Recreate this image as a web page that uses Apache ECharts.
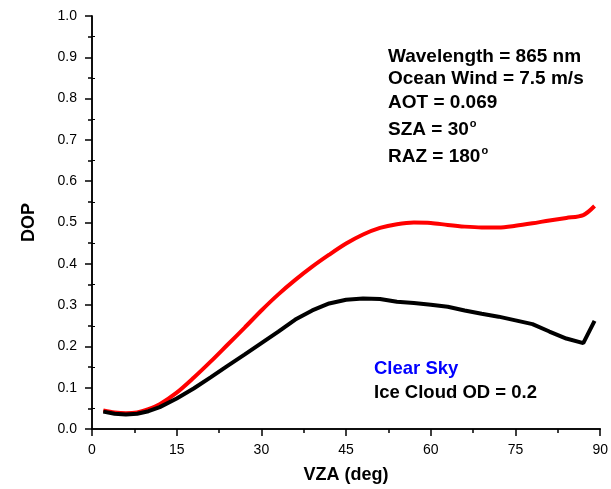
<!DOCTYPE html>
<html>
<head>
<meta charset="utf-8">
<script src="https://cdn.jsdelivr.net/npm/echarts@6/dist/echarts.min.js"></script>
<style>
  html, body { margin: 0; padding: 0; background: #fff; }
  #chart { width: 611px; height: 489px; }
</style>
</head>
<body>
<div id="chart"></div>
<script>
// VZA sample angles (deg)
const vza = [2, 4, 6, 8, 10, 12, 15, 18, 21, 24, 27, 30, 33, 36, 39, 42, 45, 48, 51, 54, 57, 60, 63, 66, 69, 72, 75, 78, 81, 84, 87, 89]
// clear sky DOP
const clearSky = [0.045, 0.040, 0.038, 0.040, 0.048, 0.060, 0.088, 0.124, 0.163, 0.204, 0.245, 0.287, 0.326, 0.361, 0.393, 0.422, 0.449, 0.471, 0.487, 0.496, 0.500, 0.499, 0.494, 0.490, 0.488, 0.488, 0.492, 0.498, 0.505, 0.511, 0.518, 0.540]
// ice cloud OD = 0.2 DOP
const iceCloud = [0.042, 0.037, 0.035, 0.037, 0.043, 0.053, 0.074, 0.098, 0.125, 0.153, 0.180, 0.208, 0.236, 0.265, 0.287, 0.304, 0.313, 0.316, 0.315, 0.308, 0.305, 0.301, 0.296, 0.287, 0.279, 0.272, 0.263, 0.254, 0.236, 0.219, 0.208, 0.262]

const infoLines = ['Wavelength = 865 nm', 'Ocean Wind = 7.5 m/s', 'AOT = 0.069']

const font = 'Arial, "Liberation Sans", sans-serif'

const chart = echarts.init(document.getElementById('chart'))

const pairs = (ys) => vza.map((x, i) => [x, ys[i]])

const bold = { fontFamily: font, fontSize: 19, fontWeight: 'bold', fill: '#000' }
const degRich = {
  a: { fontFamily: font, fontSize: 19, fontWeight: 'bold' },
  s: { fontFamily: font, fontSize: 11, fontWeight: 'bold', verticalAlign: 'top', padding: [0, 0, 12, 1] }
}

const option = {
  animation: false,
  grid: { left: 92, right: 10, top: 16, bottom: 60 },
  xAxis: [{
    type: 'value',
    min: 0, max: 90, interval: 15,
    name: 'VZA (deg)',
    nameLocation: 'middle',
    nameGap: 37,
    nameTextStyle: { fontFamily: font, fontSize: 18, fontWeight: 'bold', color: '#000' },
    axisLine: { lineStyle: { color: '#000', width: 1.5 } },
    axisTick: { inside: false, length: 7, lineStyle: { color: '#000', width: 1.5 } },
    minorTick: { show: true, splitNumber: 2, length: 4, lineStyle: { color: '#000', width: 1.5 } },
    axisLabel: { fontFamily: font, fontSize: 14, color: '#000', margin: 14 },
    splitLine: { show: false }
  }, {
    type: 'value', position: 'top',
    min: 0, max: 90, interval: 15,
    axisLine: { show: true, lineStyle: { color: '#000', width: 1.5 } },
    axisTick: { show: false }, axisLabel: { show: false }, splitLine: { show: false }
  }],
  yAxis: [{
    type: 'value',
    min: 0, max: 1, interval: 0.1,
    name: 'DOP',
    nameLocation: 'middle',
    nameGap: 54,
    nameTextStyle: { fontFamily: font, fontSize: 18, fontWeight: 'bold', color: '#000' },
    axisLine: { show: true, lineStyle: { color: '#000', width: 1.5 } },
    axisTick: { inside: false, length: 7, lineStyle: { color: '#000', width: 1.5 } },
    minorTick: { show: true, splitNumber: 2, length: 4, lineStyle: { color: '#000', width: 1.5 } },
    axisLabel: { fontFamily: font, fontSize: 14, color: '#000', margin: 15, formatter: (v) => v.toFixed(1) },
    splitLine: { show: false }
  }, {
    type: 'value', position: 'right',
    min: 0, max: 1, interval: 0.1,
    axisLine: { show: true, lineStyle: { color: '#000', width: 1.5 } },
    axisTick: { show: false },
    minorTick: { show: true, splitNumber: 2, length: 3, lineStyle: { color: '#000', width: 1 } },
    axisLabel: { show: false }, splitLine: { show: false }
  }],
  series: [{
    name: 'Clear Sky',
    type: 'line',
    data: pairs(clearSky),
    smooth: 0.3,
    showSymbol: false,
    lineStyle: { color: '#ff0000', width: 4 }
  }, {
    name: 'Ice Cloud OD = 0.2',
    type: 'line',
    data: pairs(iceCloud),
    smooth: false,
    showSymbol: false,
    lineStyle: { color: '#000', width: 4 }
  }],
  graphic: [
    ...infoLines.map((t, i) => ({
      type: 'text', left: 388, top: [47, 69, 93][i],
      style: Object.assign({ text: t }, bold)
    })),
    {
      type: 'text', left: 388, top: 118,
      style: Object.assign({}, bold, { text: '{a|SZA = 30}{s|o}', rich: degRich })
    },
    {
      type: 'text', left: 388, top: 145,
      style: Object.assign({}, bold, { text: '{a|RAZ = 180}{s|o}', rich: degRich })
    },
    {
      type: 'text', left: 374, top: 359,
      style: Object.assign({}, bold, { text: 'Clear Sky', fill: '#0000ff', fontSize: 18.5 })
    },
    {
      type: 'text', left: 374, top: 383,
      style: Object.assign({}, bold, { text: 'Ice Cloud OD = 0.2', fontSize: 18.5 })
    }
  ]
}

chart.setOption(option)
</script>
</body>
</html>
